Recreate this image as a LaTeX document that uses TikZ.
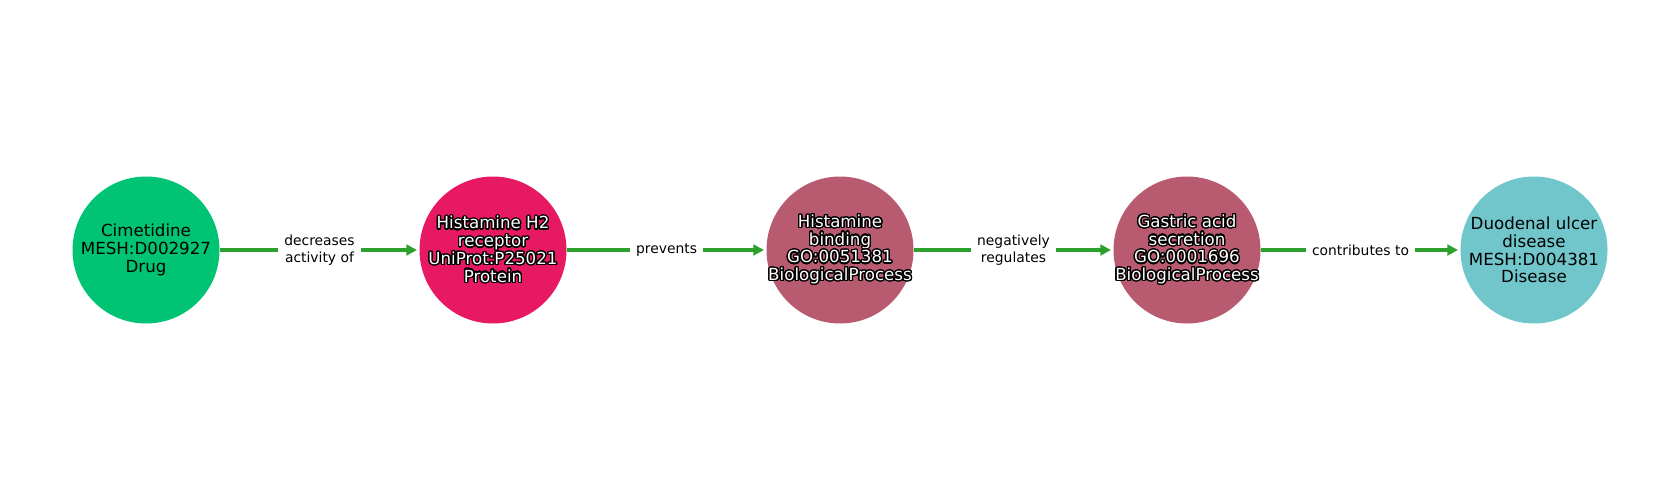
\documentclass[tikz,border=0pt]{standalone}
\usepackage{fontspec}
\setmainfont{DejaVu Sans}
\usepackage{contour}
\contourlength{1pt}
\contournumber{24}
\usetikzlibrary{arrows.meta}

\definecolor{drugclr}{RGB}{0,196,115}
\definecolor{protclr}{RGB}{232,25,99}
\definecolor{procclr}{RGB}{184,91,112}
\definecolor{disclr}{RGB}{112,198,203}
\definecolor{relgreen}{RGB}{44,160,44}

\newcommand{\olined}[1]{\contour{black}{\textcolor{white}{#1}}}

\tikzset{every picture/.style={line width=0.75pt}}

\begin{document}
\begin{tikzpicture}[x=0.75pt,y=0.75pt,yscale=-1,xscale=1,
	entity/.style={circle,minimum size=110.25pt,inner sep=0pt},
	entitytext/.style={inner sep=0pt,align=center,
		font=\fontsize{12.5}{13.3}\selectfont},
	rel/.style={draw=relgreen,line width=3pt,shorten >=1.5pt,
		-{Triangle[length=8pt,width=8pt]}},
	rellabel/.style={midway,fill=white,inner sep=4.5pt,align=center,text=black,
		font=\fontsize{10.4}{12.4}\selectfont}]
	%set diagram left start at 0, and has height of 500
	\useasboundingbox (0,0) rectangle (1680,500);
	
	%Shape: Circle [id:drug]
	\node [entity,fill=drugclr,label={[entitytext]center:Cimetidine\\MESH:D002927\\Drug}] (cimet) at (146,250) {};
	%Shape: Circle [id:protein]
	\node [entity,fill=protclr,label={[entitytext]center:\olined{Histamine H2}\\\olined{receptor}\\\olined{UniProt:P25021}\\\olined{Protein}}] (hrh2) at (493,250) {};
	%Shape: Circle [id:process1]
	\node [entity,fill=procclr,label={[entitytext]center:\olined{Histamine}\\\olined{binding}\\\olined{GO:0051381}\\\olined{BiologicalProcess}}] (hbind) at (840,250) {};
	%Shape: Circle [id:process2]
	\node [entity,fill=procclr,label={[entitytext]center:\olined{Gastric acid}\\\olined{secretion}\\\olined{GO:0001696}\\\olined{BiologicalProcess}}] (gasec) at (1187,250) {};
	%Shape: Circle [id:disease]
	\node [entity,fill=disclr,label={[entitytext]center:Duodenal ulcer\\disease\\MESH:D004381\\Disease}] (duod) at (1534,250) {};
	
	%Straight Lines [id:rel1]
	\draw [rel] (cimet) -- (hrh2) node [rellabel] {decreases\\activity of};
	%Straight Lines [id:rel2]
	\draw [rel] (hrh2) -- (hbind) node [rellabel] {prevents};
	%Straight Lines [id:rel3]
	\draw [rel] (hbind) -- (gasec) node [rellabel] {negatively\\regulates};
	%Straight Lines [id:rel4]
	\draw [rel] (gasec) -- (duod) node [rellabel] {contributes to};
\end{tikzpicture}
\end{document}
